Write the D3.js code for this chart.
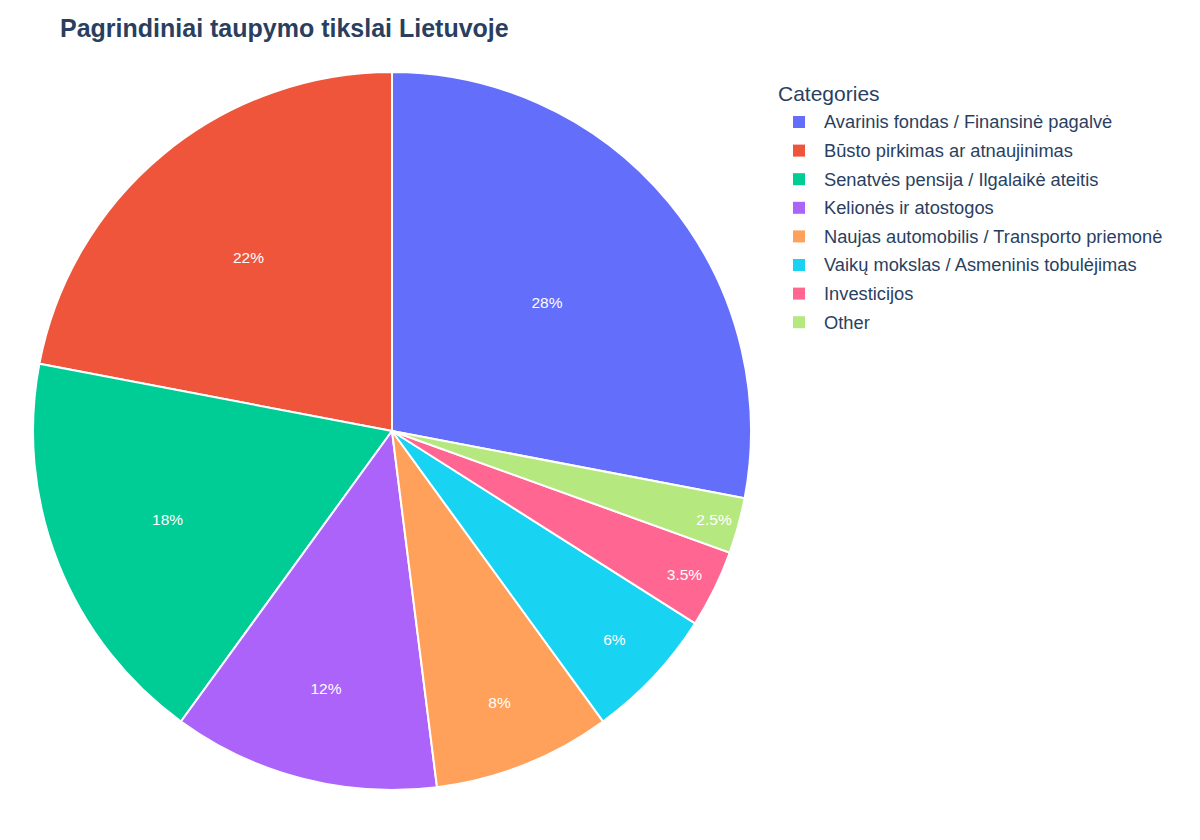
<html>
<head>
<script src="https://cdn.jsdelivr.net/npm/d3@7"></script>
<style>
  body { margin: 0; background: #fff; }
  text { font-family: Arial, "Liberation Sans", sans-serif; }
</style>
</head>
<body>
<svg id="chart" width="1200" height="840"></svg>
<script>
const categories = [
  "Avarinis fondas / Finansinė pagalvė",
  "Būsto pirkimas ar atnaujinimas",
  "Senatvės pensija / Ilgalaikė ateitis",
  "Kelionės ir atostogos",
  "Naujas automobilis / Transporto priemonė",
  "Vaikų mokslas / Asmeninis tobulėjimas",
  "Investicijos",
  "Other"
]
const values = [28, 22, 18, 12, 8, 6, 3.5, 2.5]
const colors = ["#636efa", "#ef553b", "#00cc96", "#ab63fa", "#ffa15a", "#19d3f3", "#ff6692", "#b6e880"]

const svg = d3.select("#chart")
const cx = 392, cy = 431, r = 359

svg.append("text")
  .attr("x", 60).attr("y", 37)
  .attr("font-size", 25).attr("font-weight", "bold")
  .attr("fill", "#2a3f5f")
  .text("Pagrindiniai taupymo tikslai Lietuvoje")

const data = categories.map((c, i) => ({ name: c, value: values[i], color: colors[i] }))

// counter-clockwise, first slice ends at 12 o'clock
const total = d3.sum(values)
const start = 2 * Math.PI * values[0] / total
const pie = d3.pie().sort(null).value(d => d.value)
  .startAngle(start).endAngle(start - 2 * Math.PI)
const arcs = pie(data)
const arc = d3.arc().innerRadius(0).outerRadius(r)

// small slices get their label pushed outward
const labelFrac = d3.scaleLinear().domain([2.5, 6, 12, 28]).range([0.93, 0.85, 0.74, 0.56]).clamp(true)

const g = svg.append("g").attr("transform", `translate(${cx},${cy})`)

g.selectAll("path")
  .data(arcs)
  .enter().append("path")
  .attr("d", arc)
  .attr("fill", d => d.data.color)
  .attr("stroke", "white")
  .attr("stroke-width", 2)

g.selectAll("text.lbl")
  .data(arcs)
  .enter().append("text")
  .attr("class", "lbl")
  .attr("transform", d => {
    const lr = r * labelFrac(d.data.value)
    const la = d3.arc().innerRadius(lr).outerRadius(lr)
    return `translate(${la.centroid(d)})`
  })
  .attr("text-anchor", "middle")
  .attr("dy", "0.35em")
  .attr("font-size", 15.5)
  .attr("fill", "white")
  .text(d => d.data.value + "%")

const legend = svg.append("g")
legend.append("text")
  .attr("x", 778).attr("y", 101)
  .attr("font-size", 21).attr("fill", "#2a3f5f")
  .text("Categories")

const item = legend.selectAll("g.item")
  .data(data)
  .enter().append("g")
  .attr("class", "item")
  .attr("transform", (d, i) => `translate(0,${122 + i * 28.6})`)

item.append("rect")
  .attr("x", 793).attr("y", -6)
  .attr("width", 12).attr("height", 12)
  .attr("fill", d => d.color)

item.append("text")
  .attr("x", 824).attr("y", 0)
  .attr("dy", "0.35em")
  .attr("font-size", 18.3)
  .attr("fill", "#2a3f5f")
  .text(d => d.name)
</script>
</body>
</html>
